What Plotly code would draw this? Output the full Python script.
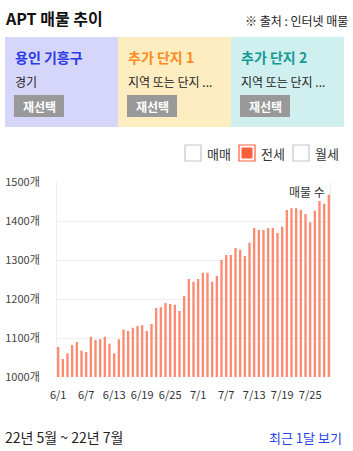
import plotly.graph_objects as go

# ---- data ----
dates = (["6/%d" % d for d in range(1, 31)] + ["7/%d" % d for d in range(1, 30)])
listings = [1077, 1046, 1061, 1082, 1090, 1067, 1064, 1103, 1095, 1097,
            1103, 1085, 1061, 1097, 1121, 1118, 1126, 1131, 1133, 1118,
            1136, 1177, 1179, 1190, 1187, 1185, 1169, 1208, 1251, 1244,
            1251, 1267, 1267, 1244, 1259, 1300, 1313, 1313, 1331, 1326,
            1310, 1344, 1382, 1377, 1377, 1382, 1382, 1369, 1385, 1428,
            1433, 1433, 1428, 1418, 1397, 1426, 1451, 1444, 1467]
tick_labels = ["6/1", "6/7", "6/13", "6/19", "6/25", "7/1", "7/7", "7/13", "7/19", "7/25"]
y_ticks = [1000, 1100, 1200, 1300, 1400, 1500]
y_tick_text = ["%d개" % v for v in y_ticks]

W, H = 353, 451
L, R, T, B = 57, 330, 182, 377
FONT = "Noto Sans CJK KR"


def px(x):
    return (x - L) / (R - L)


def py(y):
    return (B - y) / (B - T)


fig = go.Figure()
fig.add_trace(go.Bar(x=dates, y=listings, width=0.5,
                     marker=dict(color="#FF8B72", line=dict(width=0)),
                     hoverinfo="x+y"))

shapes = []
annotations = []


def text(x, y, s, size=12, color="#222", xanchor="left", bold=False, yanchor="middle"):
    annotations.append(dict(x=px(x), y=py(y), xref="paper", yref="paper", text=("<b>%s</b>" % s) if bold else s,
                            showarrow=False, xanchor=xanchor, yanchor=yanchor,
                            font=dict(size=size, color=color, family=FONT)))


def rect(x0, y0, x1, y1, fill, line_color=None, lw=0, layer="below"):
    shapes.append(dict(type="rect", xref="paper", yref="paper", x0=px(x0), x1=px(x1), y0=py(y0), y1=py(y1),
                       fillcolor=fill, line=dict(color=line_color or fill, width=lw), layer=layer))


# header
text(3, 18, "APT 매물 추이", 16, "#111", bold=True)
text(350, 20, "※ 출처 : 인터넷 매물", 12, "#222", xanchor="right")

# selection boxes
boxes = [(5, 118, "#D5D6FA", "용인 기흥구", "#2B3BE8", "경기"),
         (118, 231, "#FFEDC2", "추가 단지 1", "#FF8A1F", "지역 또는 단지 ..."),
         (231, 344, "#CFF0EE", "추가 단지 2", "#139A94", "지역 또는 단지 ...")]
for x0, x1, bg, title, tc, sub in boxes:
    rect(x0, 37, x1, 127, bg)
    text(x0 + 8, 57, title, 14, tc, bold=True)
    text(x0 + 8, 81, sub, 12, "#222")
    rect(x0 + 9, 95, x0 + 59, 117, "#999999")
    text(x0 + 34, 106, "재선택", 12, "#FFFFFF", xanchor="center", bold=True)

# legend checkboxes
for bx, label, on in [(185, "매매", False), (239, "전세", True), (293, "월세", False)]:
    if on:
        rect(bx, 145, bx + 16, 161, "#FFFFFF", "#FF5E3A", 1.2)
        rect(bx + 2.5, 147.5, bx + 13.5, 158.5, "#FF5E3A")
    else:
        rect(bx, 145, bx + 16, 161, "#FFFFFF", "#C4C4CE", 1.2)
    text(bx + 20, 153, label, 13, "#333")

# in-plot label
text(327, 191, "매물 수", 12, "#333", xanchor="right")

# footer
text(3, 437, "22년 5월 ~ 22년 7월", 14, "#222")
text(344, 437, "최근 1달 보기", 13, "#2B44E8", xanchor="right")

fig.update_layout(
    width=W, height=H,
    margin=dict(l=L, r=W - R, t=T, b=H - B, pad=0, autoexpand=False),
    paper_bgcolor="white", plot_bgcolor="white",
    showlegend=False, bargap=0.5,
    font=dict(family=FONT),
    shapes=shapes, annotations=annotations,
    xaxis=dict(type="category", range=[-0.25, len(dates) - 0.75], automargin=False,
               tickmode="array", tickvals=tick_labels, ticktext=tick_labels,
               tickfont=dict(size=11, color="#333", family=FONT),
               ticks="outside", ticklen=8, tickcolor="rgba(0,0,0,0)",
               showgrid=False, showline=False, zeroline=False, fixedrange=True),
    yaxis=dict(range=[1000, 1500], tickmode="array", tickvals=y_ticks, ticktext=y_tick_text,
               automargin=False,
               tickfont=dict(size=11, color="#444", family=FONT),
               ticks="outside", ticklen=14, tickcolor="rgba(0,0,0,0)",
               showgrid=True, gridcolor="#EEEEEE", gridwidth=1,
               showline=True, mirror=True, linecolor="#EEEEEE", linewidth=1,
               zeroline=False, fixedrange=True),
)

fig.write_html("out.html", config={"displayModeBar": False})
